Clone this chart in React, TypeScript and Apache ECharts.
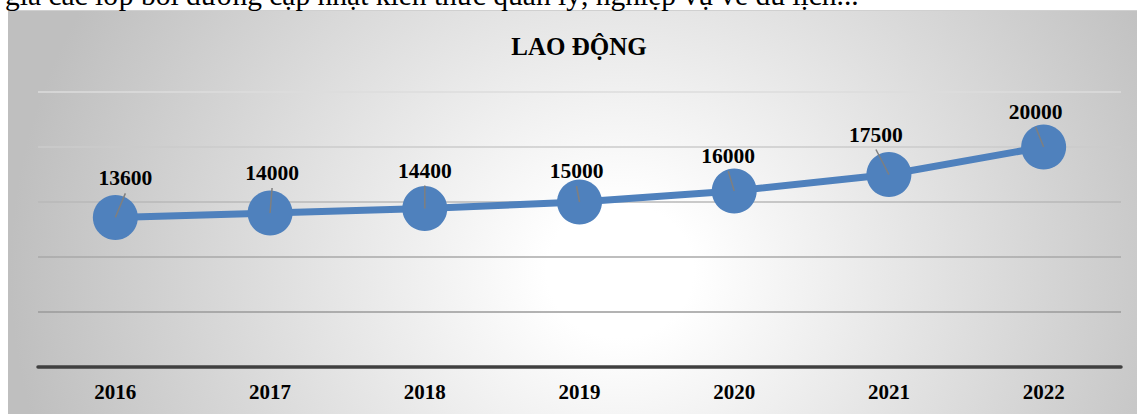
import React, { useEffect, useRef } from "react";
import * as echarts from "echarts";

const years = ["2016", "2017", "2018", "2019", "2020", "2021", "2022"];
const workers = [13600, 14000, 14400, 15000, 16000, 17500, 20000];
const yMin = 0;
const yMax = 25000;
const yStep = 5000;
const chartTitle = "LAO ĐỘNG";
const pageLine =
  "gia các lớp bồi dưỡng cập nhật kiến thức quản lý, nghiệp vụ về du lịch...";
// data-label placement relative to each marker (px)
const labelOffsets = [
  [10, -39],
  [2, -40],
  [0, -38],
  [-3, -31],
  [-6, -35],
  [-13, -40],
  [-8, -35],
];

const SERIF = "'Liberation Serif', 'Times New Roman', serif";
const BLUE = "#4F81BD";

export default function App() {
  const ref = useRef<HTMLDivElement>(null);

  useEffect(() => {
    if (!ref.current) return;
    const chart = echarts.init(ref.current, null, { renderer: "svg" });
    chart.setOption({
      animation: false,
      graphic: [
        {
          type: "text",
          x: 5,
          y: -4.8,
          style: {
            text: pageLine,
            fontFamily: SERIF,
            fontSize: 29.5,
            fill: "#000",
            align: "left",
            verticalAlign: "middle",
          },
        },
        {
          type: "text",
          x: 579,
          y: 46,
          style: {
            text: chartTitle,
            fontFamily: SERIF,
            fontSize: 25,
            fontWeight: "bold",
            fill: "#000",
            align: "center",
            verticalAlign: "middle",
          },
        },
      ],
      grid: { left: 38, right: 16, top: 92, bottom: 47, containLabel: false },
      xAxis: {
        type: "category",
        data: years,
        boundaryGap: true,
        axisLine: { show: true, lineStyle: { color: "#404040", width: 3.5 } },
        axisTick: { show: false },
        axisLabel: {
          margin: 14,
          fontFamily: SERIF,
          fontSize: 21,
          fontWeight: "bold",
          color: "#000",
        },
        splitLine: { show: false },
      },
      yAxis: {
        type: "value",
        min: yMin,
        max: yMax,
        interval: yStep,
        axisLabel: { show: false },
        axisLine: { show: false },
        axisTick: { show: false },
        splitLine: {
          show: true,
          lineStyle: {
            width: 1.6,
            color: ["#404040", "#9a9a9a", "#a8a8a8", "#b8b8b8", "#cbcbcb", "#dcdcdc"],
          },
        },
      },
      series: [
        {
          type: "line",
          data: workers,
          symbol: "circle",
          symbolSize: 45,
          itemStyle: { color: BLUE },
          lineStyle: { color: BLUE, width: 7 },
          label: { show: false },
          z: 2,
        },
        {
          type: "custom",
          data: workers.map((v, i) => [i, v]),
          encode: { x: 0, y: 1 },
          z: 5,
          renderItem: (params: any, api: any) => {
            const i = params.dataIndex;
            const p = api.coord([api.value(0), api.value(1)]);
            const [dx, dy] = labelOffsets[i];
            return {
              type: "group",
              children: [
                {
                  type: "line",
                  shape: { x1: p[0], y1: p[1], x2: p[0] + dx, y2: p[1] + dy + 15 },
                  style: { stroke: "#7f7f7f", lineWidth: 1.5 },
                },
                {
                  type: "text",
                  x: p[0] + dx,
                  y: p[1] + dy,
                  style: {
                    text: String(workers[i]),
                    fontFamily: SERIF,
                    fontSize: 21.5,
                    fontWeight: "bold",
                    fill: "#000",
                    align: "center",
                    verticalAlign: "middle",
                  },
                },
              ],
            };
          },
        },
      ],
    });
    return () => chart.dispose();
  }, []);

  return (
    <div
      style={{
        position: "fixed",
        left: 0,
        top: 0,
        width: 1137,
        height: 414,
        background: "#ffffff",
        overflow: "hidden",
      }}
    >
      <div
        style={{
          position: "absolute",
          left: 8,
          top: 10,
          width: 1129,
          height: 410,
          borderTop: "1px solid #d0d0d0",
          background:
            "radial-gradient(ellipse 610px 560px at 612px 260px, #ffffff 0%, #ffffff 12%, #bfbfbf 100%)",
        }}
      />
      <div
        ref={ref}
        style={{ position: "absolute", left: 0, top: 0, width: 1137, height: 414 }}
      />
    </div>
  );
}
